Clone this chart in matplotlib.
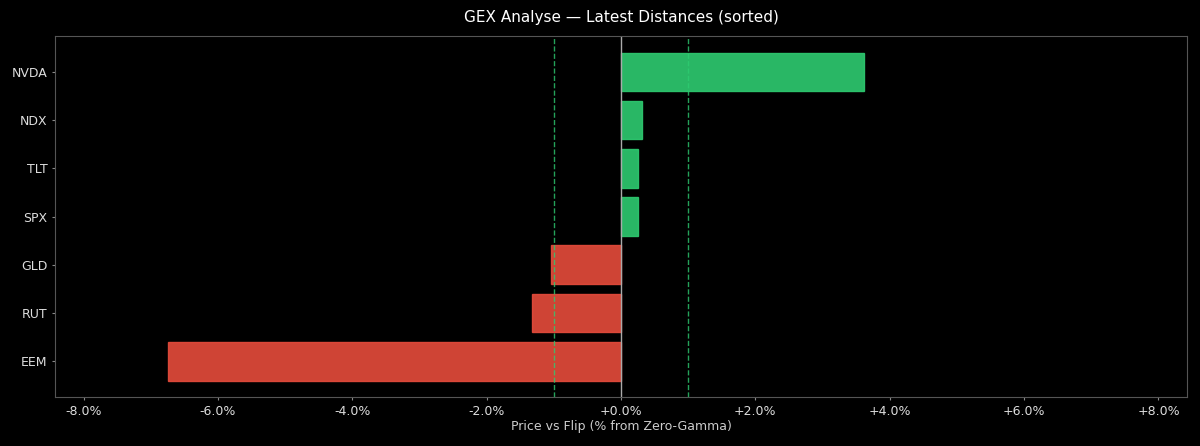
import matplotlib
matplotlib.use("Agg")
from matplotlib import pyplot as plt
from matplotlib.ticker import FuncFormatter

# latest distance of price vs gamma flip, in percent
tickers = ["EEM", "RUT", "GLD", "SPX", "TLT", "NDX", "NVDA"]
distances = [-6.74, -1.33, -1.04, 0.25, 0.25, 0.32, 3.61]
band = 1.0

plt.rcParams["font.family"] = "DejaVu Sans"

fig = plt.figure(figsize=(12.0, 4.46), dpi=100, facecolor="black")
ax = fig.add_axes([0.0458, 0.110, 0.9434, 0.809])
ax.set_facecolor("black")

colors = ["#2ecc71" if d >= 0 else "#e74c3c" for d in distances]
ax.barh(tickers, distances, height=0.8, color=colors, alpha=0.9,
        edgecolor=colors, linewidth=1)

# zero line and the +/- band
ax.axvline(0, color="#aaaaaa", linewidth=1)
ax.axvline(-band, color="#2ecc71", linestyle="--", linewidth=1, alpha=0.8)
ax.axvline(band, color="#2ecc71", linestyle="--", linewidth=1, alpha=0.8)

lim = max(abs(d) for d in distances) * 1.25
ax.set_xlim(-lim, lim)
ax.set_xticks([-8, -6, -4, -2, 0, 2, 4, 6, 8])
ax.xaxis.set_major_formatter(FuncFormatter(lambda x, p: f"{x:+.1f}%"))

ax.set_title("GEX Analyse \u2014 Latest Distances (sorted)", color="white", fontsize=11, pad=10)
ax.set_xlabel("Price vs Flip (% from Zero-Gamma)", color="#cccccc", fontsize=9, labelpad=2)

for s in ax.spines.values():
    s.set_color("#555555")
ax.tick_params(colors="#888888", labelcolor="#dddddd", labelsize=9, length=2.5, pad=3)

fig.savefig("out.png", dpi=100, facecolor="black")
